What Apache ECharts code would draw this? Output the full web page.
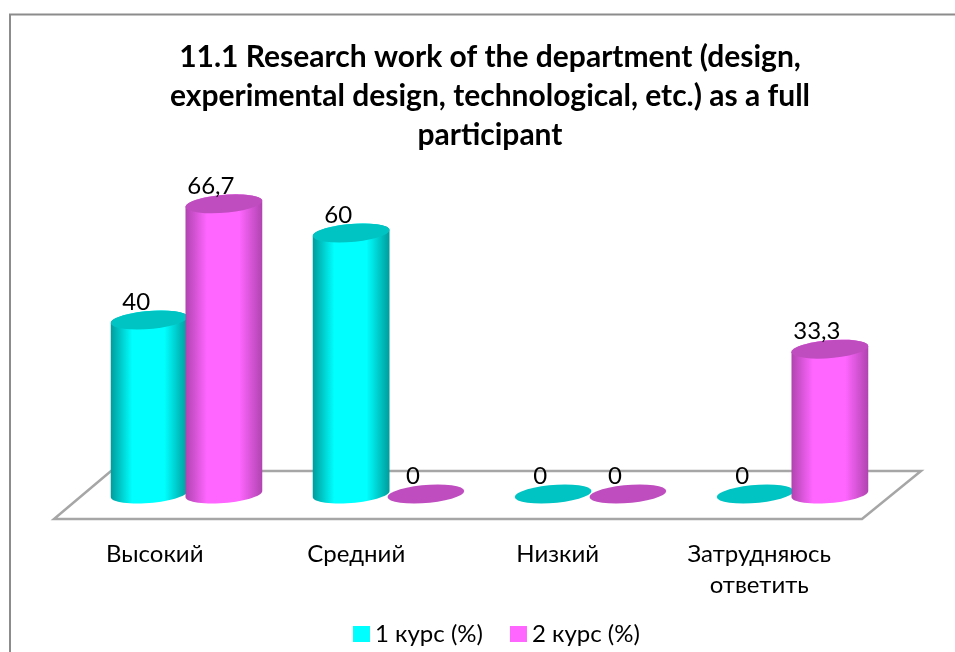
<!DOCTYPE html>
<html>
<head>
<meta charset="utf-8">
<style>html,body{margin:0;padding:0;background:#fff}#chart{width:955px;height:652px}</style>
<script src="https://cdn.jsdelivr.net/npm/echarts@6/dist/echarts.min.js"></script>
</head>
<body>
<div id="chart"></div>
<script>
const categories = ["Высокий", "Средний", "Низкий", "Затрудняюсь\nответить"];
const course1 = [40, 60, 0, 0];
const course2 = [66.7, 0, 0, 33.3];
const seriesNames = ["1 курс (%)", "2 курс (%)"];
const titleText = "11.1 Research work of the department (design,\nexperimental design, technological, etc.) as a full\nparticipant";
const font = "Lato, 'Noto Sans', sans-serif";

const palette = [
  { main: "#00ffff", edge: "#009c9c", top: "#00c4c4" },
  { main: "#ff66ff", edge: "#b044b0", top: "#c04dc0" }
];

function ring(cx, cy, rx, from, to) {
  const pts = [];
  for (let i = 0; i <= 30; i++) {
    const a = from + (to - from) * i / 30;
    pts.push([cx + rx * Math.cos(a), cy + 9 * Math.sin(a) - 3 * Math.cos(a)]);
  }
  return pts;
}

function cylinder(seriesIndex) {
  return function (params, api) {
    const band = api.size([1, 0])[0];
    const rx = band * 0.19;
    const top = api.coord([api.value(0), api.value(1)]);
    const base = api.coord([api.value(0), 0]);
    const cx = top[0] + (seriesIndex === 0 ? -1 : 1) * band * 0.185;
    const c = palette[seriesIndex];
    const children = [];
    if (api.value(1) > 0) {
      children.push({
        type: "polygon",
        shape: { points: ring(cx, top[1], rx, Math.PI, Math.PI * 2).concat(ring(cx, base[1], rx, 0, Math.PI)) },
        style: {
          fill: new echarts.graphic.LinearGradient(0, 0, 1, 0, [
            { offset: 0, color: c.edge },
            { offset: 0.28, color: c.main },
            { offset: 0.7, color: c.main },
            { offset: 1, color: c.edge }
          ])
        }
      });
    }
    children.push({
      type: "polygon",
      shape: { points: ring(cx, top[1], rx, 0, Math.PI * 2) },
      style: { fill: c.top }
    });
    children.push({
      type: "text",
      style: {
        text: String(api.value(1)).replace(".", ","),
        x: cx - 13,
        y: top[1] - 18,
        align: "center",
        verticalAlign: "middle",
        fill: "#000",
        font: "24px " + font
      }
    });
    return { type: "group", children: children };
  };
}

const chart = echarts.init(document.getElementById("chart"));
chart.setOption({
  animation: false,
  backgroundColor: "#fff",
  title: {
    text: titleText,
    left: 485,
    top: 33,
    textAlign: "center",
    textStyle: { fontFamily: font, fontWeight: "bold", fontSize: 30, lineHeight: 39, color: "#000" }
  },
  legend: {
    left: 348,
    top: 617,
    itemWidth: 17,
    itemHeight: 16,
    itemGap: 27,
    icon: "rect",
    data: seriesNames,
    textStyle: { fontFamily: font, fontSize: 24, color: "#000" }
  },
  grid: [
    { left: 85.5, width: 808, top: 189.5, height: 304.5 },
    { left: 54, width: 806, top: 189.5, height: 304.5 }
  ],
  xAxis: [
    { type: "category", gridIndex: 0, data: categories, show: false },
    {
      type: "category",
      gridIndex: 1,
      data: categories,
      axisLine: { show: false },
      axisTick: { show: false },
      axisLabel: { fontFamily: font, fontSize: 24, lineHeight: 31, color: "#000", margin: 45, interval: 0 }
    }
  ],
  yAxis: [
    { type: "value", gridIndex: 0, min: 0, max: 70, show: false },
    { type: "value", gridIndex: 1, min: 0, max: 70, show: false }
  ],
  graphic: [
    {
      type: "polygon",
      silent: true,
      shape: { points: [[54, 519], [862, 519], [921, 471], [111, 471]] },
      style: { fill: "#fff", stroke: "#a6a6a6", lineWidth: 2.5 }
    },
    {
      type: "polyline",
      silent: true,
      shape: { points: [[10, 660], [10, 14.5], [960, 14.5]] },
      style: { fill: null, stroke: "#8c8c8c", lineWidth: 2 }
    }
  ],
  series: [course1, course2].map((values, i) => ({
    type: "custom",
    name: seriesNames[i],
    xAxisIndex: 0,
    yAxisIndex: 0,
    itemStyle: { color: palette[i].main },
    renderItem: cylinder(i),
    clip: false,
    data: values.map((v, k) => [k, v])
  }))
});
</script>
</body>
</html>
